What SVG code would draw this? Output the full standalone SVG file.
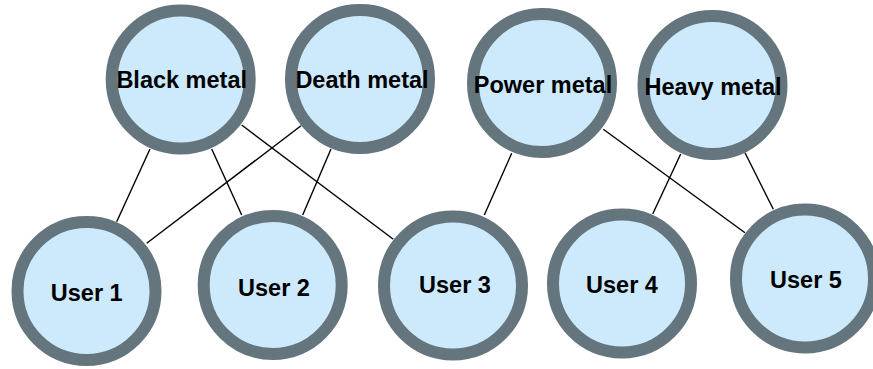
<svg xmlns="http://www.w3.org/2000/svg" width="873" height="369" viewBox="0 0 873 369">
<style>
.n circle{fill:#cdeafc;stroke:#65757d;stroke-width:12}
.n text{font-family:"Liberation Sans",Arial,sans-serif;font-weight:bold;font-size:23.5px;fill:#000;text-anchor:middle}
#edges line{stroke:#000;stroke-width:1.4}
</style>
<rect width="873" height="369" fill="#fff"/>
<g id="edges">
<line x1="150" y1="149" x2="116.7" y2="221.7"/>
<line x1="211.7" y1="149" x2="241.7" y2="215"/>
<line x1="241.7" y1="125" x2="393.3" y2="239.3"/>
<line x1="301" y1="125.7" x2="146.7" y2="243.3"/>
<line x1="331" y1="149" x2="302.7" y2="215"/>
<line x1="511.7" y1="153.3" x2="484.3" y2="215"/>
<line x1="603.3" y1="129.3" x2="745" y2="232.7"/>
<line x1="680.7" y1="154" x2="652.7" y2="214"/>
<line x1="745" y1="152.7" x2="773.3" y2="209.3"/>
</g>
<g id="black-metal" class="n"><circle cx="180.7" cy="79.5" r="69"/><text x="181.7" y="88.3">Black metal</text></g>
<g id="death-metal" class="n"><circle cx="360" cy="79" r="69"/><text x="362" y="88">Death metal</text></g>
<g id="power-metal" class="n"><circle cx="542" cy="83" r="69"/><text x="543" y="92.7">Power metal</text></g>
<g id="heavy-metal" class="n"><circle cx="712.5" cy="85" r="69"/><text x="713" y="95">Heavy metal</text></g>
<g id="user1" class="n"><circle cx="86.5" cy="291" r="69"/><text x="86.7" y="301">User 1</text></g>
<g id="user2" class="n"><circle cx="272.7" cy="285" r="69"/><text x="274" y="295.7">User 2</text></g>
<g id="user3" class="n"><circle cx="453" cy="285.5" r="69"/><text x="455" y="293">User 3</text></g>
<g id="user4" class="n"><circle cx="622" cy="283.5" r="69"/><text x="622" y="292.7">User 4</text></g>
<g id="user5" class="n"><circle cx="805" cy="278.5" r="69"/><text x="806" y="288">User 5</text></g>
</svg>
